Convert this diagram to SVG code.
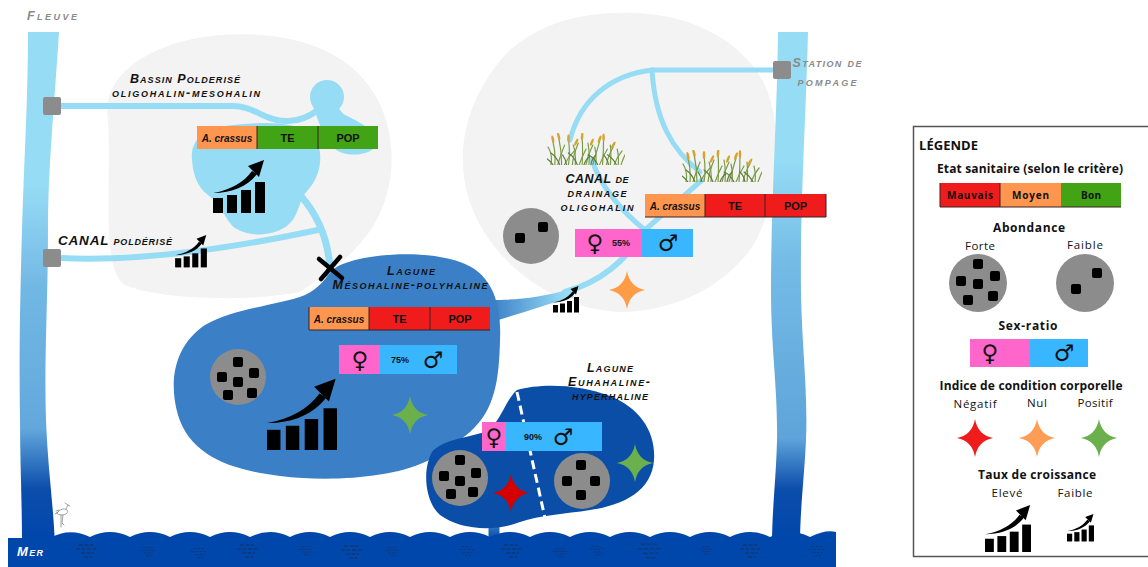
<svg xmlns="http://www.w3.org/2000/svg" xmlns:xlink="http://www.w3.org/1999/xlink" width="1148" height="567" viewBox="0 0 1148 567">
<style>
.hand{font-family:"Liberation Sans",Arial,sans-serif;font-weight:700;font-style:italic;font-variant:small-caps;font-size:12.5px;fill:#111;text-anchor:middle}
.gl{fill:#8a8a8a}
.cell{font-family:"Liberation Sans",Arial,sans-serif;font-weight:700;font-size:11px;fill:#111;text-anchor:middle}
.sp{font-family:"Liberation Sans",Arial,sans-serif;font-weight:700;font-style:italic;font-size:10px;fill:#111;text-anchor:middle}
.pct{font-family:"Liberation Sans",Arial,sans-serif;font-weight:700;font-size:9px;fill:#111;text-anchor:middle}
.leg{font-family:"Open Sans","Liberation Sans",sans-serif;fill:#111;text-anchor:middle}
.h{font-weight:700;font-size:12px}
.r{font-size:11.5px}
.sym{font-family:"DejaVu Sans",sans-serif;fill:#111;text-anchor:middle;font-size:23px}
.canal{fill:none;stroke:#97dcf5;stroke-linecap:round}
.sep{stroke:#3a2020;stroke-width:1}
.blade{fill:none;stroke-width:1.2;stroke-linecap:round}
</style>
<defs>
  <linearGradient id="riverL" gradientUnits="userSpaceOnUse" x1="0" y1="32" x2="0" y2="540">
    <stop offset="0" stop-color="#97dcf5"/>
    <stop offset="0.3" stop-color="#97dcf5"/>
    <stop offset="0.5" stop-color="#72b8e4"/>
    <stop offset="0.78" stop-color="#62a8dc"/>
    <stop offset="0.9" stop-color="#0c4dab"/>
    <stop offset="1" stop-color="#0047ab"/>
  </linearGradient>
  <linearGradient id="riverR" gradientUnits="userSpaceOnUse" x1="0" y1="32" x2="0" y2="540">
    <stop offset="0" stop-color="#97dcf5"/>
    <stop offset="0.25" stop-color="#97dcf5"/>
    <stop offset="0.45" stop-color="#74bce6"/>
    <stop offset="0.8" stop-color="#5ea4da"/>
    <stop offset="0.9" stop-color="#0c4dab"/>
    <stop offset="1" stop-color="#0047ab"/>
  </linearGradient>
  <linearGradient id="drainOut" gradientUnits="userSpaceOnUse" x1="565" y1="0" x2="492" y2="0">
    <stop offset="0" stop-color="#97dcf5"/>
    <stop offset="1" stop-color="#3b80c6"/>
  </linearGradient>
  <linearGradient id="inlet" gradientUnits="userSpaceOnUse" x1="0" y1="262" x2="0" y2="292">
    <stop offset="0" stop-color="#97dcf5"/>
    <stop offset="1" stop-color="#3b80c6"/>
  </linearGradient>
  <linearGradient id="outlet" gradientUnits="userSpaceOnUse" x1="0" y1="522" x2="0" y2="540">
    <stop offset="0" stop-color="#3e82c8"/>
    <stop offset="1" stop-color="#0047ab"/>
  </linearGradient>

  <!-- growth-rate icon: four bars and a curved arrow -->
  <symbol id="growth" viewBox="0 0 52 54">
    <rect x="0" y="38" width="10" height="15"/>
    <rect x="14" y="35" width="10" height="18"/>
    <rect x="28" y="30" width="10" height="23"/>
    <rect x="42" y="22" width="10" height="31"/>
    <path d="M0,33 C18,30 31,22 39,11 L44,14 C35,26 20,33 0,33 Z"/>
    <polygon points="51,0 35,6 46,17"/>
  </symbol>

  <!-- body-condition star -->
  <symbol id="star" viewBox="-20 -20 40 40">
    <path d="M0,-20 Q3,-3 19,0 Q3,3 0,20 Q-3,3 -19,0 Q-3,-3 0,-20 Z"/>
  </symbol>

  <rect id="sq" x="-5" y="-5" width="10" height="10" rx="2" fill="#000"/>

  <!-- reed clump -->
  <symbol id="grass" viewBox="0 0 80 32">
    <g class="blade" stroke="#7b9a45">
      <path d="M4,32 Q6,22 1,14"/><path d="M8,32 Q9,20 6,8"/><path d="M11,32 Q14,22 18,12"/>
      <path d="M15,32 Q15,18 12,4"/><path d="M18,32 Q22,24 28,18"/><path d="M22,32 Q24,20 22,6"/>
      <path d="M26,32 Q27,22 32,10"/><path d="M29,32 Q30,20 27,12"/><path d="M33,32 Q36,24 40,16"/>
      <path d="M36,32 Q37,18 36,4"/><path d="M40,32 Q42,22 47,12"/><path d="M43,32 Q44,20 42,10"/>
      <path d="M47,32 Q50,22 54,8"/><path d="M50,32 Q51,22 49,14"/><path d="M54,32 Q57,24 62,16"/>
      <path d="M57,32 Q58,18 58,6"/><path d="M61,32 Q63,22 68,14"/><path d="M65,32 Q66,22 65,12"/>
      <path d="M69,32 Q72,24 77,18"/><path d="M73,32 Q74,24 72,16"/><path d="M76,32 Q78,26 80,22"/>
    </g>
    <g class="blade" stroke="#5d7f33">
      <path d="M13,32 Q10,24 4,20"/><path d="M31,32 Q28,24 22,20"/><path d="M52,32 Q48,24 42,22"/>
      <path d="M71,32 Q68,26 62,22"/><path d="M20,32 Q19,26 16,22"/><path d="M45,32 Q46,26 50,22"/>
      <path d="M6,32 Q3,28 0,26"/><path d="M38,32 Q40,26 44,24"/><path d="M63,32 Q62,26 58,22"/>
    </g>
    <g fill="#d6a32e">
      <ellipse cx="6" cy="6" rx="1.3" ry="4" transform="rotate(-12 6 6)"/>
      <ellipse cx="12" cy="3" rx="1.3" ry="4" transform="rotate(-15 12 3)"/>
      <ellipse cx="22" cy="5" rx="1.3" ry="4"/>
      <ellipse cx="36" cy="3" rx="1.3" ry="4" transform="rotate(5 36 3)"/>
      <ellipse cx="46" cy="9" rx="1.3" ry="4" transform="rotate(22 46 9)"/>
      <ellipse cx="54" cy="6" rx="1.3" ry="4" transform="rotate(20 54 6)"/>
      <ellipse cx="58" cy="4" rx="1.3" ry="4"/>
      <ellipse cx="68" cy="12" rx="1.3" ry="4" transform="rotate(30 68 12)"/>
      <ellipse cx="30" cy="9" rx="1.3" ry="4" transform="rotate(25 30 9)"/>
    </g>
  </symbol>

  <!-- small ripple marks on the sea -->
  <symbol id="rip" viewBox="-4 -1 26 15" overflow="visible">
    <path d="M0,0 h14 M-3,4 h22 M2,8 h13 M5,12 h8" stroke="#123670" stroke-width="1.3" fill="none" stroke-dasharray="4,1.5" opacity="0.85"/>
  </symbol>
</defs>

<rect width="1148" height="567" fill="#ffffff"/>

<!-- grey land areas -->
<g id="polder-area">
  <path d="M108,120 C100,70 160,40 220,35 C290,30 350,48 378,100 C398,140 396,190 372,228 C352,258 325,275 300,292 C250,302 160,300 125,285 C100,270 112,180 108,120 Z" fill="#f3f3f3"/>
</g>
<g id="drainage-area">
  <path d="M617,13 C680,10 740,35 765,85 C785,130 778,210 750,250 C720,290 670,312 620,312 C560,310 500,270 475,215 C450,160 465,100 505,55 C535,25 575,14 617,13 Z" fill="#f3f3f3"/>
</g>

<!-- rivers -->
<g id="river-left">
  <path d="M28,32 L59,32 C54,110 48,170 48,230 C48,300 44,360 46,420 C48,470 53,500 55,545 L22,545 C22,500 20,460 20,420 C19,360 20,300 22,230 C24,160 28,100 28,32 Z" fill="url(#riverL)"/>
</g>
<g id="river-right">
  <path d="M778,32 L808,32 C806,120 800,200 801,290 C802,350 808,390 806,440 C804,480 800,510 800,545 L772,545 C772,510 776,480 777,440 C778,390 771,350 771,290 C771,200 777,120 778,32 Z" fill="url(#riverR)"/>
</g>

<!-- connectors: canals -->
<g id="connectors">
  <path class="canal" stroke-width="6" d="M61,106 L232,106 C255,106 262,120 285,121 C300,122 310,116 318,110"/>
  <path class="canal" stroke-width="7" d="M300,195 C318,215 328,240 330,268"/>
  <path d="M330,262 L331,292" stroke="url(#inlet)" stroke-width="8" fill="none"/>
  <path class="canal" stroke-width="6" d="M61,258 C120,261 200,255 318,230"/>
  <path class="canal" stroke-width="5" d="M773,70 L652,70 C610,75 580,100 570,140"/>
  <path class="canal" stroke-width="5" d="M592,160 C600,185 620,210 645,230"/>
  <path class="canal" stroke-width="5" d="M652,70 C655,120 672,150 700,172"/>
  <path class="canal" stroke-width="5" d="M702,180 L645,230"/>
  <path class="canal" stroke-width="6" d="M645,230 C625,262 600,282 565,292"/>
  <path d="M570,289 C540,298 515,300 490,300 L490,322 C515,316 540,306 574,297 Z" fill="url(#drainOut)"/>
  <path d="M494,518 L494,540" stroke="url(#outlet)" stroke-width="11" fill="none"/>
  <path d="M425,442 L452,456" stroke="#2f70bb" stroke-width="12" fill="none"/>
</g>

<!-- ponds of the polder basin -->
<g id="bassin-pond" fill="#97dcf5">
  <path d="M192,160 C190,140 205,128 225,126 C260,122 295,120 312,135 C325,148 322,175 308,190 C298,200 300,215 288,225 C275,236 250,238 235,228 C225,220 222,205 208,195 C196,186 193,172 192,160 Z"/>
  <circle cx="327" cy="97" r="17"/>
  <path d="M312,103 C320,125 325,145 340,152 C355,158 375,153 377,143 C378,132 360,122 345,115 C338,110 335,100 330,95 Z"/>
</g>

<!-- lagoons -->
<g id="lagune-meso">
  <path d="M335,268 C355,255 420,248 460,262 C490,272 502,300 500,340 C499,380 495,410 470,432 C450,448 440,455 425,462 C390,478 330,482 280,476 C230,470 190,455 178,415 C168,380 175,345 205,325 C235,308 280,305 305,295 C320,288 325,278 335,268 Z" fill="#3b80c6"/>
</g>
<g id="lagune-euha">
  <path d="M517,390 C540,383 580,384 610,396 C640,408 656,432 654,460 C652,490 625,505 590,510 C565,514 540,515 520,522 C495,532 460,530 440,515 C425,502 422,470 432,452 C442,440 465,438 485,432 C500,425 505,400 517,390 Z" fill="#0a4ea8"/>
  <path d="M517,392 L545,518" stroke="#ffffff" stroke-width="3" stroke-dasharray="9,5" fill="none"/>
</g>

<!-- sea -->
<g id="mer">
  <path d="M8,567 L8,538 L50,538 Q70,527 90,537 Q110,527 130,537 Q150,527 170,537 Q190,527 210,537 Q230,527 250,537 Q270,527 290,537 Q310,527 330,537 Q350,527 370,537 Q390,527 410,537 Q430,527 450,537 Q470,527 490,537 Q510,527 530,537 Q550,527 570,537 Q590,527 610,537 Q630,527 650,537 Q670,527 690,537 Q710,527 730,537 Q750,527 770,537 Q790,527 810,537 Q826,529 836,532 L836,567 Z" fill="#0047ab"/>
  <g>
    <use href="#rip" x="75" y="544" width="26" height="15"/>
    <use href="#rip" x="140" y="546" width="18" height="12"/>
    <use href="#rip" x="190" y="547" width="20" height="13"/>
    <use href="#rip" x="236" y="544" width="26" height="15"/>
    <use href="#rip" x="298" y="545" width="18" height="12"/>
    <use href="#rip" x="340" y="545" width="26" height="15"/>
    <use href="#rip" x="384" y="546" width="18" height="12"/>
    <use href="#rip" x="458" y="545" width="20" height="13"/>
    <use href="#rip" x="500" y="544" width="26" height="15"/>
    <use href="#rip" x="552" y="547" width="18" height="12"/>
    <use href="#rip" x="589" y="545" width="18" height="12"/>
    <use href="#rip" x="636" y="543" width="30" height="17"/>
    <use href="#rip" x="699" y="545" width="16" height="11"/>
    <use href="#rip" x="738" y="544" width="28" height="15"/>
    <use href="#rip" x="808" y="545" width="20" height="13"/>
  </g>
  <text x="17" y="556" class="hand" style="fill:#ffffff;text-anchor:start;font-size:13px" textLength="26">Mer</text>
</g>

<!-- small heron sketch on the shore -->
<g id="heron" fill="none" stroke="#8a8a8a" stroke-width="0.8" stroke-linecap="round">
  <path d="M57,513 C60,509 64,508 67,510 C69,512 66,515 62,515 C59,515 57,514 57,513 Z"/>
  <path d="M66,509 L68,505 L70,506 M68,505 L65,503"/>
  <path d="M61,515 L61,527 M63,515 L62,523 L64,525"/>
  <path d="M58,512 L55,514 M59,510 L56,511"/>
</g>

<!-- stations -->
<g id="station-bassin"><rect x="43" y="97" width="18" height="18" rx="2" fill="#8c8c8c"/></g>
<g id="station-canal"><rect x="43" y="249" width="18" height="18" rx="2" fill="#8c8c8c"/></g>
<g id="station-pompage">
  <rect x="773" y="61" width="18" height="18" rx="2" fill="#8c8c8c"/>
  <text x="827" y="67" class="hand gl" textLength="69">Station de</text>
  <text x="827" y="86" class="hand gl" textLength="59">pompage</text>
</g>

<text x="52" y="20" class="hand gl" textLength="50">Fleuve</text>

<!-- polder basin -->
<g id="bassin">
  <text x="185" y="83" class="hand" textLength="110">Bassin Polderisé</text>
  <text x="186" y="97" class="hand" textLength="148">oligohalin-mesohalin</text>
  <g transform="translate(197,126)">
    <rect x="0" y="0" width="60" height="23" fill="#ff9650"/>
    <rect x="60" y="0" width="61" height="23" fill="#42a314"/>
    <rect x="121" y="0" width="60" height="23" fill="#42a314"/>
    <path class="sep" d="M60,0 V23 M121,0 V23"/>
    <text x="30" y="15.5" class="sp">A. crassus</text>
    <text x="90.5" y="16" class="cell">TE</text>
    <text x="151" y="16" class="cell">POP</text>
  </g>
  <use href="#growth" x="213" y="160" width="52" height="54"/>
</g>

<!-- polder canal -->
<g id="canal-polderise">
  <text x="115" y="245" class="hand" style="font-size:13.5px" textLength="114">CANAL poldérisé</text>
  <use href="#growth" x="175" y="235" width="32" height="33"/>
</g>

<!-- closed connection -->
<g id="barrage" stroke="#000" stroke-width="4.5" stroke-linecap="round">
  <path d="M319,259 L342,278"/>
  <path d="M340,257 L321,279"/>
</g>

<!-- drainage canal -->
<g id="canal-drainage">
  <use href="#grass" x="547" y="133" width="78" height="32"/>
  <use href="#grass" x="682" y="150" width="80" height="32"/>
  <text x="597" y="183" class="hand" textLength="63">CANAL de</text>
  <text x="597" y="197" class="hand" textLength="59">drainage</text>
  <text x="597" y="211" class="hand" textLength="73">oligohalin</text>
  <g transform="translate(645,194)">
    <rect x="0" y="0" width="60" height="23" fill="#ff9650"/>
    <rect x="60" y="0" width="60" height="23" fill="#f01c1c"/>
    <rect x="120" y="0" width="61" height="23" fill="#f01c1c"/>
    <path class="sep" d="M60,0 V23 M120,0 V23 M181,0 V23 M0,23 H181"/>
    <text x="30" y="15.5" class="sp">A. crassus</text>
    <text x="90" y="16" class="cell">TE</text>
    <text x="150.5" y="16" class="cell">POP</text>
  </g>
  <circle cx="531" cy="236" r="28" fill="#8c8c8c"/>
  <use href="#sq" x="520" y="238"/>
  <use href="#sq" x="543" y="227"/>
  <g transform="translate(575,229)">
    <rect x="0" y="0" width="67" height="28" fill="#ff66cc"/>
    <rect x="67" y="0" width="51" height="28" fill="#38b6ff"/>
    <text x="20" y="22" class="sym">♀</text>
    <text x="46" y="17" class="pct">55%</text>
    <text x="93" y="22" class="sym">♂</text>
  </g>
  <use href="#star" x="608" y="270" width="38" height="40" fill="#ff9c45"/>
  <use href="#growth" x="553" y="286" width="26" height="27"/>
</g>

<!-- meso-polyhaline lagoon contents -->
<g id="lagune-meso-info">
  <text x="411" y="275" class="hand" textLength="48">Lagune</text>
  <text x="410" y="289" class="hand" textLength="155">Mésohaline-polyhaline</text>
  <g transform="translate(309,307)">
    <rect x="0" y="0" width="60" height="23" fill="#ff9650"/>
    <rect x="60" y="0" width="61" height="23" fill="#f01c1c"/>
    <rect x="121" y="0" width="60" height="23" fill="#f01c1c"/>
    <path class="sep" d="M0,0 V23 M60,0 V23 M121,0 V23 M0,23 H181"/>
    <text x="30" y="15.5" class="sp">A. crassus</text>
    <text x="90.5" y="16" class="cell">TE</text>
    <text x="151" y="16" class="cell">POP</text>
  </g>
  <g transform="translate(339,345)">
    <rect x="0" y="0" width="41" height="29" fill="#ff66cc"/>
    <rect x="41" y="0" width="77" height="29" fill="#38b6ff"/>
    <text x="21" y="23" class="sym">♀</text>
    <text x="61" y="18" class="pct">75%</text>
    <text x="94" y="23" class="sym">♂</text>
  </g>
  <circle cx="238" cy="377" r="28" fill="#8c8c8c"/>
  <use href="#sq" x="238" y="362"/>
  <use href="#sq" x="222" y="377"/>
  <use href="#sq" x="254" y="373"/>
  <use href="#sq" x="238" y="382"/>
  <use href="#sq" x="228" y="395"/>
  <use href="#sq" x="252" y="393"/>
  <use href="#growth" x="267" y="378" width="70" height="74"/>
  <use href="#star" x="391" y="395" width="38" height="40" fill="#6ab04c"/>
</g>

<!-- euhaline-hyperhaline lagoon contents -->
<g id="lagune-euha-info">
  <text x="610" y="372" class="hand" textLength="46">Lagune</text>
  <text x="609" y="386" class="hand" textLength="82">Euhahaline-</text>
  <text x="610" y="400" class="hand" textLength="76">hyperhaline</text>
  <g transform="translate(482,422)">
    <rect x="0" y="0" width="24" height="29" fill="#ff66cc"/>
    <rect x="24" y="0" width="96" height="29" fill="#38b6ff"/>
    <text x="12" y="23" class="sym">♀</text>
    <text x="51" y="18" class="pct">90%</text>
    <text x="81" y="23" class="sym">♂</text>
  </g>
  <circle cx="460" cy="478" r="28" fill="#8c8c8c"/>
  <use href="#sq" x="460" y="460"/>
  <use href="#sq" x="444" y="476"/>
  <use href="#sq" x="476" y="473"/>
  <use href="#sq" x="460" y="481"/>
  <use href="#sq" x="451" y="494"/>
  <use href="#sq" x="473" y="492"/>
  <use href="#star" x="492" y="473" width="38" height="40" fill="#d40000"/>
  <circle cx="582" cy="481" r="28" fill="#8c8c8c"/>
  <use href="#sq" x="581" y="465"/>
  <use href="#sq" x="567" y="481"/>
  <use href="#sq" x="595" y="481"/>
  <use href="#sq" x="581" y="495"/>
  <use href="#star" x="616" y="443" width="38" height="40" fill="#6ab04c"/>
</g>

<!-- legend -->
<g id="legende">
  <rect x="913.5" y="126.5" width="240" height="430" fill="#ffffff" stroke="#555" stroke-width="1.5"/>
  <text x="919" y="150" class="leg h" style="text-anchor:start;font-size:13px" textLength="59">LÉGENDE</text>
  <text x="1030" y="173" class="leg h" textLength="186">Etat sanitaire (selon le critère)</text>
  <g transform="translate(940,183)">
    <rect x="0" y="0" width="60" height="24" fill="#f01c1c"/>
    <rect x="60" y="0" width="61" height="24" fill="#ff9650"/>
    <rect x="121" y="0" width="60" height="24" fill="#42a314"/>
    <path class="sep" d="M0,0 V24 M60,0 V24 M0,24 H181"/>
    <text x="30" y="16" class="leg" style="font-size:10px;font-weight:700" textLength="46">Mauvais</text>
    <text x="90.5" y="16" class="leg" style="font-size:10px;font-weight:700" textLength="37">Moyen</text>
    <text x="151" y="16" class="leg" style="font-size:10px;font-weight:700" textLength="20">Bon</text>
  </g>
  <text x="1029" y="232" class="leg h" textLength="72">Abondance</text>
  <text x="980" y="250" class="leg r" textLength="30">Forte</text>
  <text x="1085" y="249" class="leg r" textLength="36">Faible</text>
  <circle cx="978" cy="283" r="29" fill="#8c8c8c"/>
  <use href="#sq" x="978" y="264"/>
  <use href="#sq" x="961" y="281"/>
  <use href="#sq" x="995" y="276"/>
  <use href="#sq" x="978" y="284"/>
  <use href="#sq" x="968" y="300"/>
  <use href="#sq" x="993" y="296"/>
  <circle cx="1085" cy="283" r="29" fill="#8c8c8c"/>
  <use href="#sq" x="1097" y="273"/>
  <use href="#sq" x="1076" y="289"/>
  <text x="1028" y="330" class="leg h" textLength="59">Sex-ratio</text>
  <g transform="translate(970,339)">
    <rect x="0" y="0" width="60" height="28" fill="#ff66cc"/>
    <rect x="60" y="0" width="58" height="28" fill="#38b6ff"/>
    <text x="20" y="22" class="sym">♀</text>
    <text x="94" y="22" class="sym">♂</text>
  </g>
  <text x="1031" y="390" class="leg h" textLength="183">Indice de condition corporelle</text>
  <text x="975" y="408" class="leg r" textLength="43">Négatif</text>
  <text x="1037" y="407" class="leg r" textLength="20">Nul</text>
  <text x="1095" y="407" class="leg r" textLength="35">Positif</text>
  <use href="#star" x="956" y="418" width="38" height="40" fill="#f01c1c"/>
  <use href="#star" x="1018" y="418" width="38" height="40" fill="#ff9c55"/>
  <use href="#star" x="1080" y="418" width="38" height="40" fill="#6ab04c"/>
  <text x="1037" y="479" class="leg h" textLength="118">Taux de croissance</text>
  <text x="1007" y="497" class="leg r" textLength="31">Elevé</text>
  <text x="1075" y="497" class="leg r" textLength="35">Faible</text>
  <use href="#growth" x="985" y="505" width="46" height="48"/>
  <use href="#growth" x="1067" y="514" width="27" height="28"/>
</g>
</svg>
